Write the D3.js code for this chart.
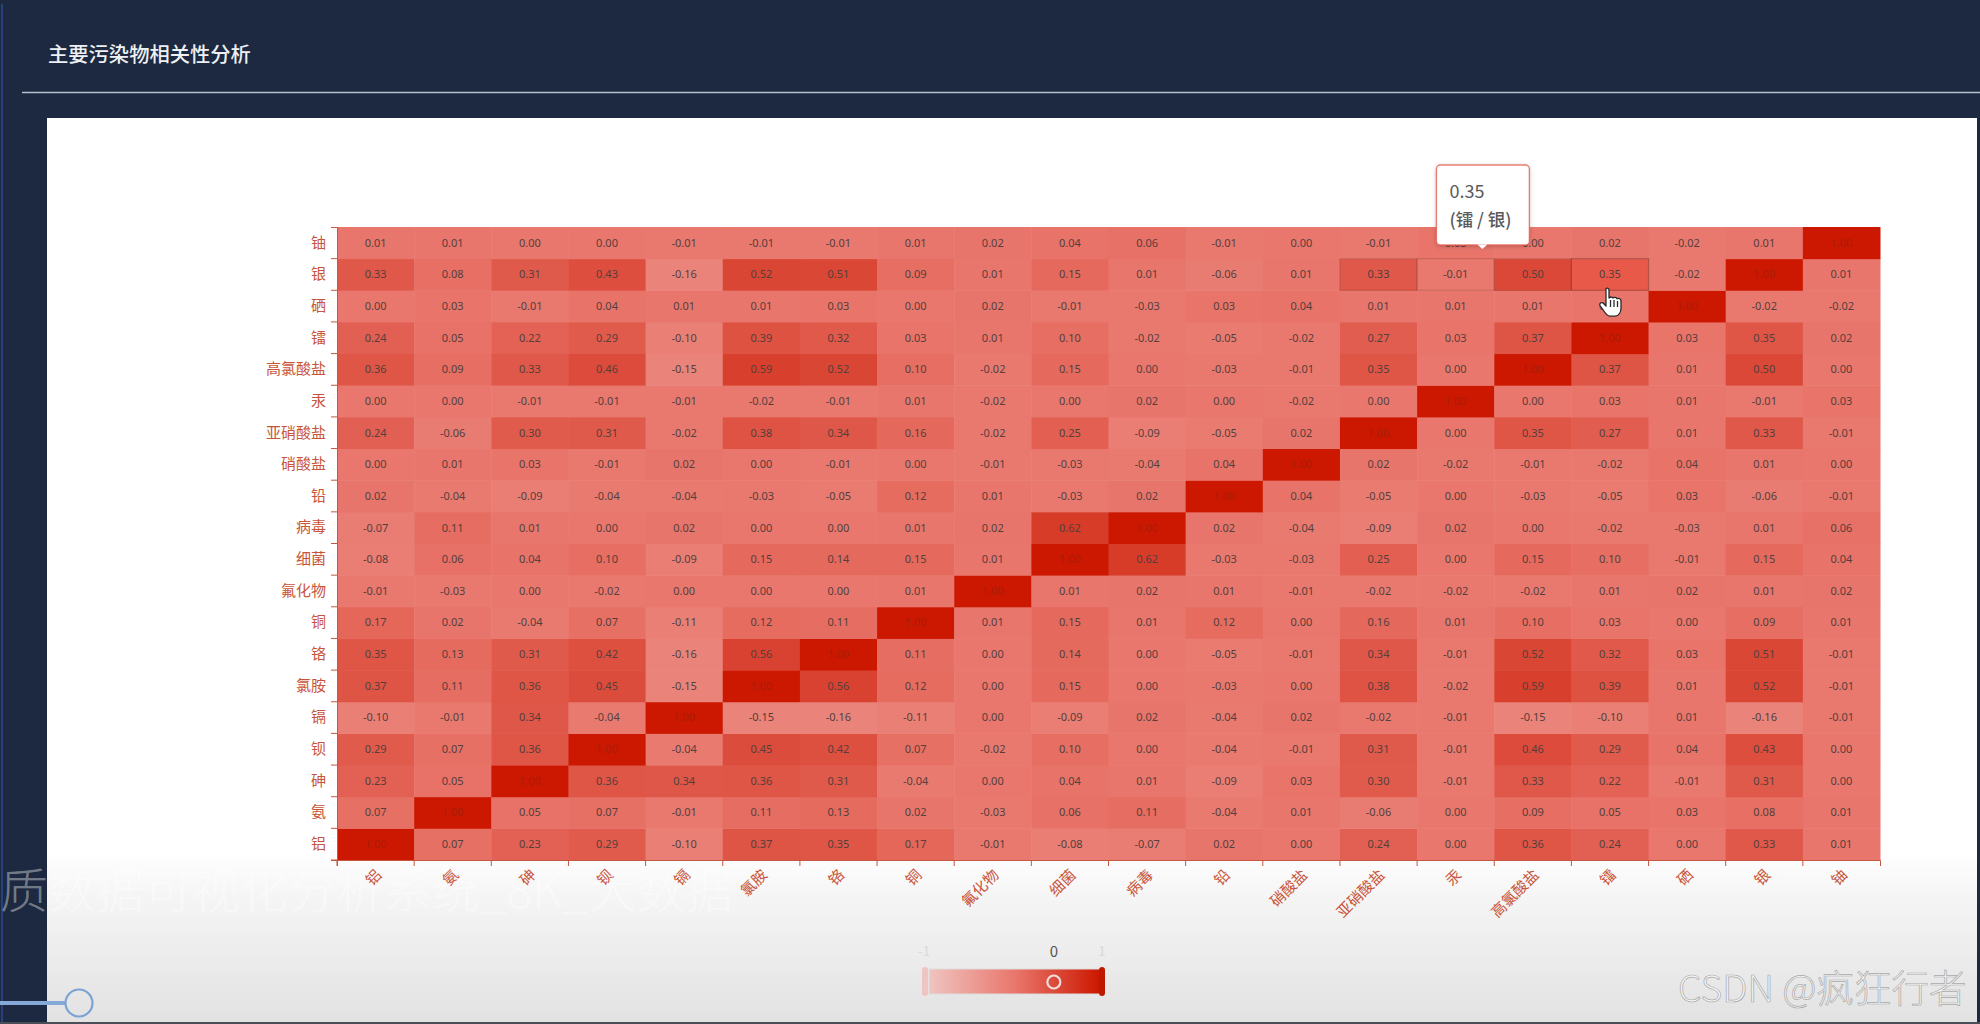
<!DOCTYPE html>
<html>
<head>
	<meta charset="utf-8"/>
	<script src="https://d3js.org/d3.v7.min.js"></script>
	<title>主要污染物相关性分析</title>
	<style type="text/css">
		html, body { margin: 0; padding: 0; background: #1c2940; overflow: hidden; }
		svg { display: block; }
		text { font-family: "Noto Sans CJK SC", "Noto Sans", sans-serif; }
		.cell_label { font-family: "Noto Sans", sans-serif; font-size: 11px; }
		.axis text { font-size: 15px; fill: #c8553a; font-weight: 400; }
		.axis line, .axis path { stroke: #c4573f; }
	</style>
</head>
<body>
<div id="chart"></div>
<script type="text/javascript">

// categories, first one is at the bottom of the y axis and left of the x axis
var categories = ["铝","氨","砷","钡","镉","氯胺","铬","铜","氟化物","细菌","病毒","铅","硝酸盐","亚硝酸盐","汞","高氯酸盐","镭","硒","银","铀"];

// one row per category, same order as above
var corrValues = [
	[1.00,0.07,0.23,0.29,-0.10,0.37,0.35,0.17,-0.01,-0.08,-0.07,0.02,0.00,0.24,0.00,0.36,0.24,0.00,0.33,0.01],
	[0.07,1.00,0.05,0.07,-0.01,0.11,0.13,0.02,-0.03,0.06,0.11,-0.04,0.01,-0.06,0.00,0.09,0.05,0.03,0.08,0.01],
	[0.23,0.05,1.00,0.36,0.34,0.36,0.31,-0.04,0.00,0.04,0.01,-0.09,0.03,0.30,-0.01,0.33,0.22,-0.01,0.31,0.00],
	[0.29,0.07,0.36,1.00,-0.04,0.45,0.42,0.07,-0.02,0.10,0.00,-0.04,-0.01,0.31,-0.01,0.46,0.29,0.04,0.43,0.00],
	[-0.10,-0.01,0.34,-0.04,1.00,-0.15,-0.16,-0.11,0.00,-0.09,0.02,-0.04,0.02,-0.02,-0.01,-0.15,-0.10,0.01,-0.16,-0.01],
	[0.37,0.11,0.36,0.45,-0.15,1.00,0.56,0.12,0.00,0.15,0.00,-0.03,0.00,0.38,-0.02,0.59,0.39,0.01,0.52,-0.01],
	[0.35,0.13,0.31,0.42,-0.16,0.56,1.00,0.11,0.00,0.14,0.00,-0.05,-0.01,0.34,-0.01,0.52,0.32,0.03,0.51,-0.01],
	[0.17,0.02,-0.04,0.07,-0.11,0.12,0.11,1.00,0.01,0.15,0.01,0.12,0.00,0.16,0.01,0.10,0.03,0.00,0.09,0.01],
	[-0.01,-0.03,0.00,-0.02,0.00,0.00,0.00,0.01,1.00,0.01,0.02,0.01,-0.01,-0.02,-0.02,-0.02,0.01,0.02,0.01,0.02],
	[-0.08,0.06,0.04,0.10,-0.09,0.15,0.14,0.15,0.01,1.00,0.62,-0.03,-0.03,0.25,0.00,0.15,0.10,-0.01,0.15,0.04],
	[-0.07,0.11,0.01,0.00,0.02,0.00,0.00,0.01,0.02,0.62,1.00,0.02,-0.04,-0.09,0.02,0.00,-0.02,-0.03,0.01,0.06],
	[0.02,-0.04,-0.09,-0.04,-0.04,-0.03,-0.05,0.12,0.01,-0.03,0.02,1.00,0.04,-0.05,0.00,-0.03,-0.05,0.03,-0.06,-0.01],
	[0.00,0.01,0.03,-0.01,0.02,0.00,-0.01,0.00,-0.01,-0.03,-0.04,0.04,1.00,0.02,-0.02,-0.01,-0.02,0.04,0.01,0.00],
	[0.24,-0.06,0.30,0.31,-0.02,0.38,0.34,0.16,-0.02,0.25,-0.09,-0.05,0.02,1.00,0.00,0.35,0.27,0.01,0.33,-0.01],
	[0.00,0.00,-0.01,-0.01,-0.01,-0.02,-0.01,0.01,-0.02,0.00,0.02,0.00,-0.02,0.00,1.00,0.00,0.03,0.01,-0.01,0.03],
	[0.36,0.09,0.33,0.46,-0.15,0.59,0.52,0.10,-0.02,0.15,0.00,-0.03,-0.01,0.35,0.00,1.00,0.37,0.01,0.50,0.00],
	[0.24,0.05,0.22,0.29,-0.10,0.39,0.32,0.03,0.01,0.10,-0.02,-0.05,-0.02,0.27,0.03,0.37,1.00,0.03,0.35,0.02],
	[0.00,0.03,-0.01,0.04,0.01,0.01,0.03,0.00,0.02,-0.01,-0.03,0.03,0.04,0.01,0.01,0.01,0.03,1.00,-0.02,-0.02],
	[0.33,0.08,0.31,0.43,-0.16,0.52,0.51,0.09,0.01,0.15,0.01,-0.06,0.01,0.33,-0.01,0.50,0.35,-0.02,1.00,0.01],
	[0.01,0.01,0.00,0.00,-0.01,-0.01,-0.01,0.01,0.02,0.04,0.06,-0.01,0.00,-0.01,0.03,0.00,0.02,-0.02,0.01,1.00]
];

var colorDomain = [-1, 0, 1];
var colorRange = ["#f0c4c0", "#e9776d", "#cc1800"];
var hoverCell = ["镭", "银"];
var hoverValue = 0.35;
var outlinedCells = [["亚硝酸盐","银"],["汞","银"],["高氯酸盐","银"]];
var legendMarkerValue = 0.46;

var width = 1980, height = 1024;
var grid = {left: 337, right: 1880, top: 227, bottom: 860};

var svg = d3.select("#chart").append("svg")
	.attr("width", width)
	.attr("height", height);

var defs = svg.append("defs");

// fade to grey at the bottom of the white panel
var fade = defs.append("linearGradient").attr("id", "panel_fade")
	.attr("x1", 0).attr("x2", 0).attr("y1", 0).attr("y2", 1);
fade.append("stop").attr("offset", "0.81").attr("stop-color", "#ffffff");
fade.append("stop").attr("offset", "0.86").attr("stop-color", "#f5f5f5");
fade.append("stop").attr("offset", "1").attr("stop-color", "#e2e2e2");

var color = d3.scaleLinear().domain(colorDomain).range(colorRange);

var legendGrad = defs.append("linearGradient").attr("id", "legend_grad");
colorDomain.forEach(function(d, i) {
	legendGrad.append("stop").attr("offset", i / 2).attr("stop-color", colorRange[i]);
});

var tipShadow = defs.append("filter").attr("id", "tip_shadow")
	.attr("x", "-20%").attr("y", "-20%").attr("width", "140%").attr("height", "140%");
tipShadow.append("feDropShadow").attr("dx", 0).attr("dy", 1).attr("stdDeviation", 2)
	.attr("flood-color", "#000").attr("flood-opacity", 0.2);

// page frame
svg.append("rect").attr("x", 1).attr("y", 4).attr("width", 2).attr("height", height)
	.attr("fill", "#26427c");
svg.append("text")
	.attr("x", 48).attr("y", 62)
	.attr("font-size", 20.3).attr("font-weight", 500)
	.attr("fill", "#eef0f3")
	.text("主要污染物相关性分析");
svg.append("line")
	.attr("x1", 22).attr("x2", width).attr("y1", 92.5).attr("y2", 92.5)
	.attr("stroke", "#b6c0cf").attr("stroke-width", 1.4);
svg.append("rect")
	.attr("x", 47).attr("y", 118).attr("width", 1930).attr("height", 905)
	.attr("fill", "url(#panel_fade)");
svg.append("rect").attr("x", 0).attr("y", 1022).attr("width", width).attr("height", 2)
	.attr("fill", "#4a4f57");

// text from the video player, shows through the panel
svg.append("text")
	.attr("x", 0).attr("y", 908)
	.attr("font-size", 48).attr("font-weight", 300)
	.attr("fill", "#ffffff").attr("fill-opacity", 0.4)
	.text("质数据可视化分析系统_8K_大数据");

// heatmap
var x = d3.scaleBand().domain(categories).range([grid.left, grid.right]);
var y = d3.scaleBand().domain(categories).range([grid.bottom, grid.top]);

var cells = [];
corrValues.forEach(function(row, i) {
	row.forEach(function(v, j) {
		cells.push({xCat: categories[j], yCat: categories[i], value: v});
	});
});

svg.append("g").selectAll("rect")
	.data(cells)
	.enter().append("rect")
	.attr("x", function(d) { return x(d.xCat); })
	.attr("y", function(d) { return y(d.yCat); })
	.attr("width", x.bandwidth() + 0.5)
	.attr("height", y.bandwidth() + 0.5)
	.attr("fill", function(d) {
		if (d.xCat == hoverCell[0] && d.yCat == hoverCell[1]) return "#e8594a";
		return color(d.value);
	});

// the neighbours of the hovered cell still have some of the shadow
outlinedCells.forEach(function(c) {
	svg.append("rect")
		.attr("x", x(c[0])).attr("y", y(c[1]))
		.attr("width", x.bandwidth()).attr("height", y.bandwidth())
		.attr("fill", "none")
		.attr("stroke", "#7a3a30")
		.attr("stroke-opacity", 0.25)
		.attr("stroke-width", 1.2);
});
svg.append("rect")
	.attr("x", x(hoverCell[0])).attr("y", y(hoverCell[1]))
	.attr("width", x.bandwidth()).attr("height", y.bandwidth())
	.attr("fill", "none")
	.attr("stroke", "#7a3a30")
	.attr("stroke-opacity", 0.5)
	.attr("stroke-width", 1.2);

svg.append("g").selectAll("text")
	.data(cells)
	.enter().append("text")
	.attr("class", "cell_label")
	.attr("x", function(d) { return x(d.xCat) + x.bandwidth() / 2; })
	.attr("y", function(d) { return y(d.yCat) + y.bandwidth() / 2; })
	.attr("dy", "0.35em")
	.attr("text-anchor", "middle")
	.attr("fill", function(d) { return d.value == 1 ? "#a81d0a" : "#553f3b"; })
	.text(function(d) { return d.value.toFixed(2); });

// axes, ticks sit between the bands
var xAxis = svg.append("g")
	.attr("class", "axis")
	.attr("transform", "translate(0," + grid.bottom + ")")
	.call(d3.axisBottom(x).tickSize(6).tickSizeOuter(6));
xAxis.selectAll(".tick line").attr("transform", "translate(" + (-x.step() / 2) + ",0)");
xAxis.selectAll(".tick text")
	.attr("x", 0).attr("y", 0).attr("dy", 0)
	.attr("transform", "translate(7,16) rotate(-45)")
	.style("text-anchor", "end");

var yAxis = svg.append("g")
	.attr("class", "axis")
	.attr("transform", "translate(" + grid.left + ",0)")
	.call(d3.axisLeft(y).tickSize(6).tickSizeOuter(6).tickPadding(5));
yAxis.selectAll(".tick line").attr("transform", "translate(0," + (y.step() / 2) + ")");

// visual map
var legendX = d3.scaleLinear().domain([-1, 1]).range([929, 1100]);
svg.append("rect")
	.attr("x", legendX(-1)).attr("y", 969)
	.attr("width", legendX(1) - legendX(-1)).attr("height", 25)
	.attr("fill", "url(#legend_grad)")
	.attr("stroke", "#dddddd");
svg.append("rect")
	.attr("x", legendX(-1) - 7).attr("y", 967).attr("width", 6).attr("height", 29).attr("rx", 3)
	.attr("fill", color(-1));
svg.append("rect")
	.attr("x", legendX(1) - 1).attr("y", 967).attr("width", 6).attr("height", 29).attr("rx", 3)
	.attr("fill", "#bf1800");
svg.append("text")
	.attr("x", legendX(-1) - 5).attr("y", 956)
	.attr("text-anchor", "middle").attr("font-size", 14).attr("fill", "#d9d9d9")
	.text("-1");
svg.append("text")
	.attr("x", legendX(1) + 2).attr("y", 956)
	.attr("text-anchor", "middle").attr("font-size", 14).attr("fill", "#d9d9d9")
	.text("1");
svg.append("text")
	.attr("x", legendX(legendMarkerValue)).attr("y", 957)
	.attr("text-anchor", "middle").attr("font-size", 15).attr("fill", "#555555")
	.text("0");
svg.append("circle")
	.attr("cx", legendX(legendMarkerValue)).attr("cy", 982).attr("r", 6.5)
	.attr("fill", "none").attr("stroke", "#f1dedb").attr("stroke-width", 2.2);

// tooltip
var tipX = x(hoverCell[0]) - 135, tipY = 165;
var tip = svg.append("g").attr("transform", "translate(" + tipX + "," + tipY + ")");
tip.append("rect")
	.attr("width", 93).attr("height", 80).attr("rx", 4)
	.attr("fill", "#ffffff")
	.attr("stroke", color(hoverValue))
	.attr("stroke-opacity", 0.75)
	.attr("stroke-width", 1.4)
	.attr("filter", "url(#tip_shadow)");
tip.append("path")
	.attr("d", "M41,79.5 L46,84 L51,79.5 Z")
	.attr("fill", "#ffffff");
tip.append("text")
	.attr("x", 13).attr("y", 33)
	.attr("font-size", 18).attr("fill", "#5a5a5a")
	.text(hoverValue.toFixed(2));
tip.append("text")
	.attr("x", 13).attr("y", 61)
	.attr("font-size", 17.5).attr("font-weight", 500).attr("fill", "#5a5a5a")
	.text("(" + hoverCell[0] + " / " + hoverCell[1] + ")");

// mouse pointer from the screen capture
svg.append("path")
	.attr("transform", "translate(1599,287)")
	.attr("d", "M7,1.5 C8.5,0.5 10,1.5 10,3 L10,11 C11,9.6 13.5,9.8 14,11 C15,10 17.4,10.2 18,11.8 C19.2,11 21.8,11.6 22,13.6 L22,21 C22,25 20,28.8 16,29.2 L11,29.2 C8,29 6.5,26.5 4.6,23.6 L1,18.5 C0,16.6 2.4,14.8 4,16 L7,19 Z M11.5,13 L11.5,20 M15,13 L15,20 M18.5,14 L18.5,20")
	.attr("fill", "#ffffff")
	.attr("stroke", "#2a2a2a")
	.attr("stroke-width", 1.3)
	.attr("stroke-linejoin", "round");

// progress knob of the video player
svg.append("line")
	.attr("x1", 0).attr("x2", 66).attr("y1", 1003).attr("y2", 1003)
	.attr("stroke", "#86a9d8").attr("stroke-width", 4);
svg.append("circle")
	.attr("cx", 79).attr("cy", 1003).attr("r", 13.5)
	.attr("fill", "none").attr("stroke", "#7ba2d4").attr("stroke-width", 2.2);

// site watermark
svg.append("text")
	.attr("x", 1678).attr("y", 1002)
	.attr("font-size", 37.5)
	.attr("font-weight", 300)
	.attr("fill", "#f5f5f5")
	.attr("stroke", "#a9a9a9")
	.attr("stroke-width", 0.7)
	.text("CSDN @疯狂行者");

</script>
</body>
</html>
